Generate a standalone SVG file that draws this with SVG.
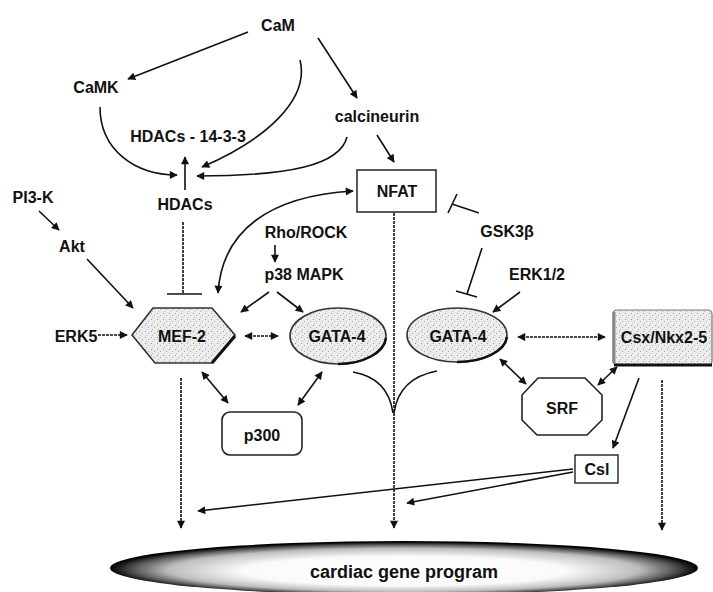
<svg xmlns="http://www.w3.org/2000/svg" width="713" height="592" viewBox="0 0 713 592">
<style>
text{font-family:"Liberation Sans",Arial,sans-serif;font-weight:bold;font-size:16px;fill:#111;text-anchor:middle}
.c{fill:none;stroke:#111;stroke-width:1.6}
.d{stroke-dasharray:3 1}
.a{marker-end:url(#ah)}
.b{marker-start:url(#ah);marker-end:url(#ah)}
.node{stroke:#333;stroke-width:1.6}
.shade{fill:url(#stip)}
</style>
<defs>
<marker id="ah" viewBox="0 0 10 10" refX="9" refY="5" markerWidth="9" markerHeight="8" markerUnits="userSpaceOnUse" orient="auto-start-reverse">
<path d="M0,0 L10,5 L0,10 z" fill="#111"/>
</marker>
<pattern id="stip" width="6" height="6" patternUnits="userSpaceOnUse">
<rect width="6" height="6" fill="#ececec"/>
<rect x="1" y="1" width="1" height="1" fill="#999"/>
<rect x="4" y="3" width="1" height="1" fill="#aaa"/>
<rect x="2" y="5" width="1" height="1" fill="#bbb"/>
</pattern>
<radialGradient id="gp" cx="50%" cy="52%" r="50%" fx="50%" fy="60%">
<stop offset="0" stop-color="#fff"/>
<stop offset="0.55" stop-color="#fafafa"/>
<stop offset="0.8" stop-color="#bdbdbd"/>
<stop offset="0.92" stop-color="#555"/>
<stop offset="1" stop-color="#000"/>
</radialGradient>
</defs>
<rect width="713" height="592" fill="#fff"/>

<g id="connectors">
<path class="c a" d="M248,32 L128,79"/>
<path class="c a" d="M300,60 C310,100 265,140 202,167"/>
<path class="c a" d="M100,107 C100,150 135,175 177,175"/>
<path class="c a" d="M318,38 L357,98"/>
<path class="c a" d="M347,137 C340,165 290,176 197,176"/>
<path class="c a" d="M377,135 L394,162"/>
<path class="c a" d="M185,190 L185,157"/>
<path class="c d" d="M183,222 L183,294"/>
<path class="c" d="M167,294 L202,294"/>
<path class="c b" d="M218,293 C222,230 270,196 353,191"/>
<path class="c a" d="M275,245 L275,262"/>
<path class="c a" d="M269,292 L241,312"/>
<path class="c a" d="M277,292 L303,312"/>
<path class="c a" d="M39,211 L59,230"/>
<path class="c a" d="M87,259 L133,308"/>
<path class="c d a" d="M98,335 L127,335"/>
<path class="c d b" d="M245,336 L278,336"/>
<path class="c b" d="M202,372 L228,403"/>
<path class="c b" d="M322,372 L298,405"/>
<path class="c" d="M353,372 Q388,378 393,413"/>
<path class="c" d="M437,371 Q399,378 394,413"/>
<path class="c d a" d="M394,213 L394,528"/>
<path class="c d a" d="M181,378 L181,528"/>
<path class="c d a" d="M662,380 L662,530"/>
<path class="c" d="M479,213 L452,204"/>
<path class="c" d="M448,213 L457,194"/>
<path class="c" d="M482,248 L467,294"/>
<path class="c" d="M456,291 L477,297"/>
<path class="c a" d="M520,292 L493,312"/>
<path class="c d b" d="M518,337 L605,337"/>
<path class="c b" d="M500,359 L526,384"/>
<path class="c b" d="M598,385 L617,367"/>
<path class="c a" d="M639,378 L613,448"/>
<path class="c a" d="M573,469 L198,511"/>
<path class="c a" d="M573,472 L407,503"/>
</g>

<g id="CaM"><text x="278" y="31">CaM</text></g>
<g id="CaMK"><text x="96" y="93">CaMK</text></g>
<g id="HDACs-14-3-3"><text x="188" y="142">HDACs - 14-3-3</text></g>
<g id="calcineurin"><text x="377" y="122">calcineurin</text></g>
<g id="PI3-K"><text x="33" y="203">PI3-K</text></g>
<g id="HDACs"><text x="185" y="210">HDACs</text></g>
<g id="Akt"><text x="72" y="252">Akt</text></g>
<g id="RhoROCK"><text x="306" y="238">Rho/ROCK</text></g>
<g id="p38"><text x="304" y="280">p38 MAPK</text></g>
<g id="GSK3b"><text x="507" y="237">GSK3β</text></g>
<g id="ERK12"><text x="537" y="280">ERK1/2</text></g>
<g id="ERK5"><text x="76" y="342">ERK5</text></g>

<g id="NFAT">
<rect x="357" y="170" width="79" height="42" fill="#fff" stroke="#222" stroke-width="1.5"/>
<text x="397" y="197">NFAT</text>
</g>
<g id="MEF-2">
<polygon class="node shade" points="132,335 153,308 212,308 235,335 212,363 155,363"/>
<path d="M212,363 L235,336" stroke="#111" stroke-width="3" fill="none"/>
<text x="182" y="342">MEF-2</text>
</g>
<g id="GATA-4-left">
<ellipse class="node shade" cx="338" cy="336" rx="48" ry="28"/>
<path d="M386,338 A48,28 0 0 1 338,364" stroke="#111" stroke-width="2.5" fill="none"/>
<text x="337" y="342">GATA-4</text>
</g>
<g id="GATA-4-right">
<ellipse class="node shade" cx="457" cy="335" rx="50" ry="27"/>
<path d="M507,337 A50,27 0 0 1 457,362" stroke="#111" stroke-width="2.5" fill="none"/>
<text x="458" y="342">GATA-4</text>
</g>
<g id="Csx">
<rect x="613" y="310" width="99" height="55" rx="4" class="shade" stroke="#777" stroke-width="1.2"/>
<path d="M614,312 L614,363" stroke="#888" stroke-width="3"/>
<path d="M614,365 L712,365" stroke="#111" stroke-width="3"/>
<text x="664" y="343">Csx/Nkx2-5</text>
</g>
<g id="SRF">
<polygon points="538,378 585,378 602,395 602,420 587,435 537,435 522,420 522,395" fill="#fff" stroke="#222" stroke-width="1.6"/>
<text x="562" y="414">SRF</text>
</g>
<g id="p300">
<rect x="222" y="412" width="80" height="43" rx="8" fill="#fff" stroke="#222" stroke-width="1.6"/>
<text x="262" y="441">p300</text>
</g>
<g id="Csl">
<rect x="575" y="455" width="43" height="28" fill="#fff" stroke="#222" stroke-width="1.4"/>
<text x="597" y="475">Csl</text>
</g>
<g id="cardiac-gene-program">
<ellipse cx="404" cy="568" rx="294" ry="27" fill="url(#gp)"/>
<text x="404" y="578" style="font-size:18px">cardiac gene program</text>
</g>
</svg>
